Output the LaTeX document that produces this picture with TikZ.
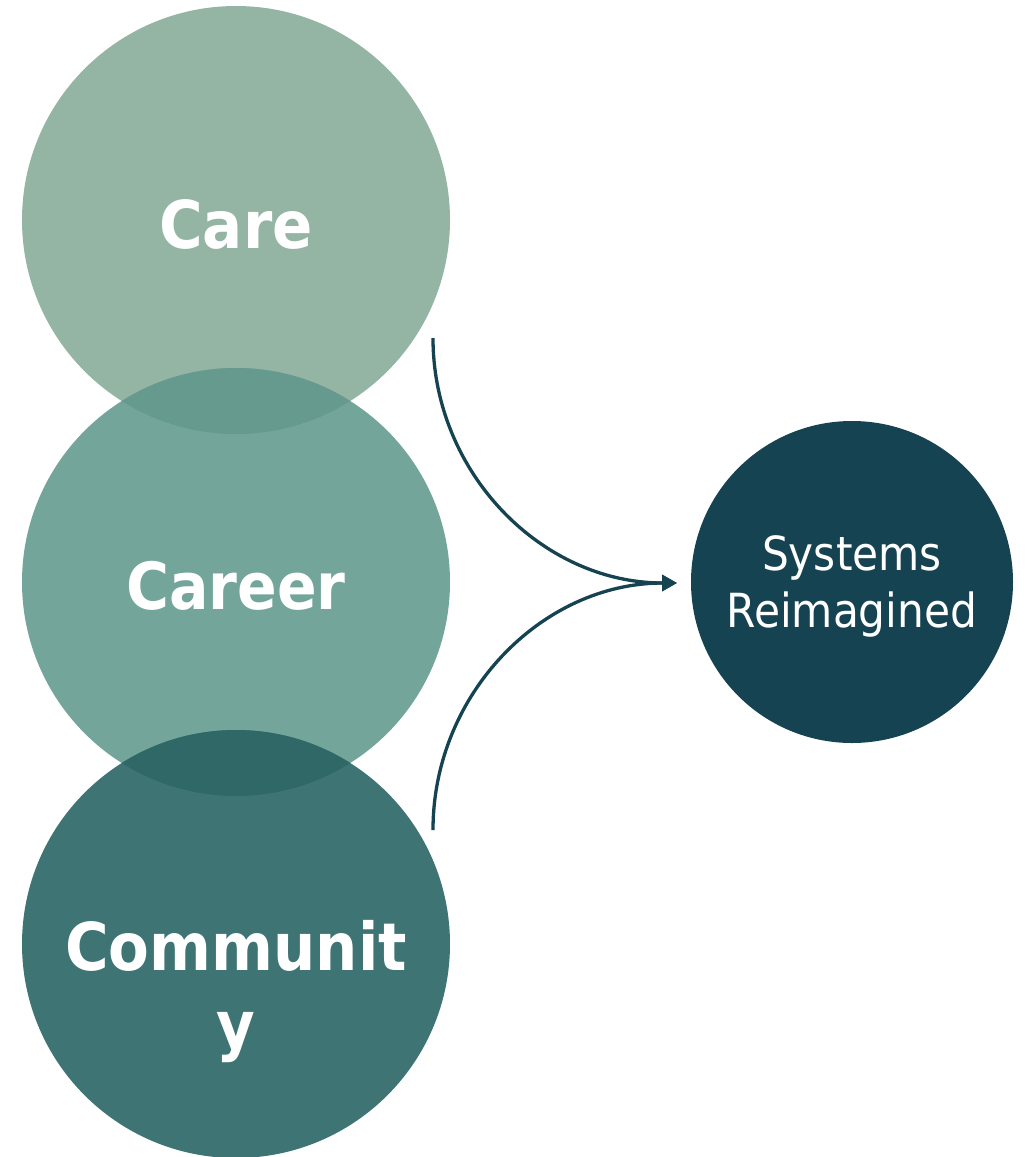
\documentclass[tikz,border=0pt]{standalone}
\usepackage{fontspec}
\setmainfont{DejaVu Sans Condensed}
\usetikzlibrary{arrows.meta}
\definecolor{careC}{HTML}{94B4A4}
\definecolor{careerC}{HTML}{74A59A}
\definecolor{commC}{HTML}{3F7474}
\definecolor{ovA}{HTML}{669A8E}
\definecolor{ovB}{HTML}{2F6866}
\definecolor{sysC}{HTML}{154351}
\tikzset{
  bigcirc/.style={circle, minimum size=428pt, inner sep=0pt},
  lbl/.style={text=white, font=\fontsize{66}{78}\selectfont\bfseries, align=center},
  syslbl/.style={text=white, font=\fontsize{47}{57}\selectfont, align=center},
  conn/.style={draw=sysC, line width=3.3pt, -{Triangle[length=15pt,width=16pt]}}
}
\begin{document}
\begin{tikzpicture}[x=1pt,y=-1pt]
\useasboundingbox (0,0) rectangle (1030,1157);
\node[bigcirc, fill=careC] (care) at (236,220) {};
\node[bigcirc, fill=careerC] (career) at (236,582) {};
\node[bigcirc, fill=commC] (comm) at (236,944) {};
\begin{scope}
  \clip (236,220) circle (214pt);
  \fill[ovA] (236,582) circle (214pt);
\end{scope}
\begin{scope}
  \clip (236,582) circle (214pt);
  \fill[ovB] (236,944) circle (214pt);
\end{scope}
\node[circle, minimum size=322pt, inner sep=0pt, fill=sysC] (sys) at (852,582) {};
\node[lbl] (careT) at (236,224) {Care};
\node[lbl, font=\fontsize{65}{78}\selectfont\bfseries] (careerT) at (236,586) {Career};
\node[lbl] (commT) at (236,992) {Communit\\y};
\node[syslbl] (sysT) at (852,586) {Systems\\Reimagined};
\coordinate (s1) at (433,338);
\coordinate (s2) at (433,830);
\coordinate (tip) at (677,583);
\draw[conn] (s1) .. controls (433,473) and (542,583) .. (tip);
\draw[conn] (s2) .. controls (433,694) and (542,583) .. (tip);
\end{tikzpicture}
\end{document}
